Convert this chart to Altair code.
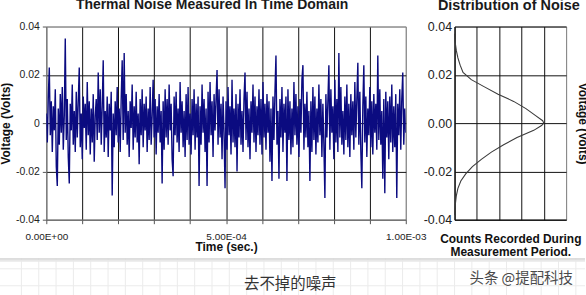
import altair as alt
import pandas as pd

# ---------------- data ----------------
# noise samples in millivolts, read left to right across the time window
noise_mv = [
    4, -8, 11, 23, -5, 9, -12, 7, -3, 14,
    -18, -26, 6, -9, 12, -4, 15, -11, 3, 35,
    -7, 10, -14, -25, 8, -3, 16, -9, 5, -12,
    13, -6, 9, 23, -10, 4, -15, 11, -2, 8,
    -11, 17, -5, 9, -13, 6, -8, 12, -16, 3,
    10, -7, 21, -4, 14, -9, 7, 26, -12, 5,
    -6, 11, -14, 8, -3, 13, -30, 4, -10, 9,
    -5, 15, -8, 6, -12, 10, 26, -7, 29, -4,
    12, -9, 5, -14, 9, -2, 16, -11, 7, -6,
    13, -8, 4, -17, 10, -5, 14, -10, 8, -3,
    11, -12, 6, -7, 15, -9, 3, 18, -6, 10,
    -13, 7, -4, 12, -8, 5, -25, 9, -11, 14,
    -6, 10, -9, 16, -3, 8, -15, -22, 11, -5,
    13, -8, 6, -12, 17, -4, 9, -10, 5, -14,
    12, -7, 15, -9, 4, -13, 10, -5, 14, -11,
    8, -6, 11, -26, 7, -9, 16, -4, 10, -12,
    6, -26, 13, -8, 17, -5, 9, -14, 12, -3,
    10, 22, -9, 14, -6, 8, -15, 11, -4, -27,
    9, -11, 15, -5, 7, -13, 18, -8, 6, -10,
    12, -20, 8, -6, 14, -9, 5, -12, 10, 21,
    -7, 13, -10, 6, -15, 9, -4, 16, -8, 11,
    -12, 7, -5, 14, -9, 10, -13, 17, -6, 8,
    -11, 12, -4, 9, -16, 6, -24, 11, -7, 13,
    28, -9, 5, -23, 10, -6, 15, -12, 8, -4,
    11, -24, 14, -7, 9, -13, 6, -10, 17, -5,
    12, -9, 7, -14, 10, -4, 18, 24, -11, 8,
    -6, 13, -10, 5, -24, 9, -12, 15, -7, 11,
    -13, 6, -8, 16, -5, 10, -14, 8, -9, -31,
    12, -6, 9, 24, -11, 14, -4, 7, -15, 18,
    -8, 10, -12, 29, -6, 15, -9, 5, -13, 11,
    -7, 16, -10, 8, -14, 12, -5, 9, -11, 17,
    -6, 10, 25, -9, 13, -12, -27, 7, 24, -8,
    11, -14, 6, -5, 15, -10, 9, -13, 12, -4,
    8, -11, 28, -7, 14, -9, 5, -23, 10, -29,
    13, -6, 9, -15, 11, -8, 16, -12, 7, -10,
    12, -31, 8, -5, 14, -11, 10, 21, -9, 6,
    -4,
]
t_end = 1.0e-3

# distribution curve (voltage vs counts)
dist_volts = [0.037, 0.034, 0.030, 0.027, 0.024, 0.021, 0.018, 0.015, 0.012,
              0.009, 0.006, 0.003, 0.001, 0.0, -0.001, -0.003, -0.006, -0.009,
              -0.012, -0.015, -0.018, -0.021, -0.024, -0.027, -0.030, -0.034, -0.038]
dist_counts = [0.0, 0.02, 0.08, 0.15, 0.25, 0.38, 0.75, 1.34, 1.95,
               2.65, 3.2, 3.65, 3.95, 4.0, 3.9, 3.55, 2.8, 2.2,
               1.65, 1.2, 0.8, 0.5, 0.28, 0.15, 0.08, 0.03, 0.0]

x_grid_values = [0.0, 0.0001, 0.0002, 0.0003, 0.0004, 0.0005,
                 0.0006, 0.0007, 0.0008, 0.0009, 0.001]
x_label_values = [0.0, 0.0005, 0.001]
x_tick_labels = ["0.00E+00", "5.00E-04", "1.00E-03"]
y_tick_values = [-0.04, -0.02, 0.0, 0.02, 0.04]
y_left_labels = ["-0.04", "-0.02", "0", "0.02", "0.04"]
y_right_labels = ["-0.04", "-0.02", "0.00", "0.02", "0.04"]
count_grid_values = [0, 1, 2, 3, 4, 5]

title_left = "Thermal Noise Measured In Time Domain"
title_right = "Distribution of Noise"
x_title_left = "Time (sec.)"
x_title_right = ["Counts Recorded During", "Measurement Period."]
y_title = "Voltage (Volts)"
caption = "去不掉的噪声"
watermark = "头条 @提配科技"

# ---------------- helpers ----------------
FONT = "Liberation Sans"
CJK = "Noto Sans CJK SC"
W_L, W_R, H = 361, 112, 194
STRIP_TOP = 233          # page strip below the chart card (relative to left plot top)
STRIP_BOTTOM = 272
STRIP_LEFT, STRIP_RIGHT = -46.5, 541


def label_expr(values, labels):
    expr = "''"
    for v, lab in reversed(list(zip(values, labels))):
        expr = f"abs(datum.value - ({v!r})) < 1e-9 ? '{lab}' : {expr}"
    return expr


n = len(noise_mv)
noise_df = pd.DataFrame({
    "t": [i * t_end / (n - 1) for i in range(n)],
    "v": [m / 1000.0 for m in noise_mv],
})
dist_df = pd.DataFrame({"k": list(range(len(dist_volts))),
                        "c": dist_counts, "v": dist_volts})
one = pd.DataFrame({"a": [0]})

# ---------------- left panel ----------------
left_x_axis = alt.Axis(
    values=x_grid_values,
    labelExpr=label_expr(x_label_values, x_tick_labels),
    grid=True,
    gridColor={"condition": {"test": "datum.value < 0.00001 || datum.value > 0.00099",
                             "value": "#8a8a8a"}, "value": "#111111"},
    gridWidth=1,
    ticks=True, tickSize=4, tickColor="#555555",
    domainColor="#666666",
    labelFont=FONT, labelFontSize=10, labelColor="#222222",
    labelPadding=7.5, labelFlush=False, labelOverlap=False,
    title=x_title_left, titleFont=FONT, titleFontSize=12, titleFontWeight="bold",
    titleColor="#111111", titleBaseline="alphabetic", titleY=31,
)
left_y_axis = alt.Axis(
    values=y_tick_values,
    labelExpr=label_expr(y_tick_values, y_left_labels),
    grid=True,
    gridColor={"condition": {"test": "abs(datum.value) > 0.039", "value": "#8a8a8a"},
               "value": "#111111"},
    gridWidth=1,
    ticks=True, tickSize=4, tickColor="#555555",
    domainColor="#777777",
    labelFont=FONT, labelFontSize=10.5, labelColor="#222222", labelPadding=3,
    labelFlush=False, labelOverlap=False,
    title=y_title, titleFont=FONT, titleFontSize=12, titleFontWeight="bold",
    titleColor="#111111", titleAngle=270, titleBaseline="middle", titleAlign="center",
    titleX=-40.5, titleY=97,
)

noise = alt.Chart(noise_df).mark_line(color="#0b0b80", strokeWidth=1.4, clip=True).encode(
    x=alt.X("t:Q", scale=alt.Scale(domain=[0, t_end], nice=False, zero=False), axis=left_x_axis),
    y=alt.Y("v:Q", scale=alt.Scale(domain=[-0.04, 0.04], nice=False), axis=left_y_axis),
)

# page strip below the card: faint background grid, card shadow, captions
strip_layers = []
for k in range(0, 34):
    xv = -25 + 17.4 * k
    if xv <= STRIP_RIGHT:
        strip_layers.append(alt.Chart(one).mark_rule(color="#ebebeb", strokeWidth=1).encode(
            x=alt.value(xv), y=alt.value(STRIP_TOP), y2=alt.value(STRIP_BOTTOM)))
for yv in (STRIP_TOP + 10.3, STRIP_TOP + 27.3):
    strip_layers.append(alt.Chart(one).mark_rule(color="#ebebeb", strokeWidth=1).encode(
        x=alt.value(STRIP_LEFT), x2=alt.value(STRIP_RIGHT), y=alt.value(yv)))
strip_layers.append(alt.Chart(one).mark_rule(color="#d2d2d2", strokeWidth=1.5).encode(
    x=alt.value(STRIP_LEFT), x2=alt.value(STRIP_RIGHT), y=alt.value(STRIP_TOP + 0.5)))
strip_layers.append(alt.Chart(one).mark_rule(color="#e8e8e8", strokeWidth=2).encode(
    x=alt.value(STRIP_LEFT), x2=alt.value(STRIP_RIGHT), y=alt.value(STRIP_TOP + 2.2)))
strip_layers.append(alt.Chart(one).mark_text(
    font=CJK, fontSize=15.5, color="#333333", align="center", baseline="middle",
    text=caption).encode(x=alt.value(245), y=alt.value(STRIP_TOP + 25.5)))
strip_layers.append(alt.Chart(one).mark_text(
    font=CJK, fontSize=14.5, color="#4a4a4a", align="left", baseline="middle",
    text=watermark).encode(x=alt.value(425), y=alt.value(STRIP_TOP + 20.5)))

left = alt.layer(
    *strip_layers, noise,
    title=alt.TitleParams(title_left, font=FONT, fontSize=14, fontWeight="bold",
                          color="#1a1a1a", anchor="middle", baseline="alphabetic",
                          offset=-1, dx=-14, frame="group"),
).properties(width=W_L, height=H, view=alt.ViewBackground(stroke="#8a8a8a"))

# ---------------- right panel ----------------
right_x_axis = alt.Axis(
    values=count_grid_values, grid=True,
    gridColor={"condition": {"test": "datum.value > 4.99", "value": "#8a8a8a"},
               "value": "#111111"},
    gridWidth=1, labels=False, ticks=False, domainColor="#111111",
    title=x_title_right, titleFont=FONT, titleFontSize=12, titleFontWeight="bold",
    titleColor="#111111", titleBaseline="alphabetic", titleY=22.5, titleLineHeight=13.5,
)
right_y_axis = alt.Axis(
    values=y_tick_values,
    labelExpr=label_expr(y_tick_values, y_right_labels),
    grid=True, gridColor="#111111", gridWidth=1,
    ticks=False, domainColor="#111111",
    labelFont=FONT, labelFontSize=12.5, labelColor="#222222", labelPadding=3,
    labelFlush=False, labelOverlap=False,
    title=y_title, titleFont=FONT, titleFontSize=12, titleFontWeight="bold",
    titleColor="#111111", titleAngle=90, titleBaseline="middle", titleAlign="center",
    titleX=128, titleY=97,
)
dist = alt.Chart(dist_df).mark_line(color="#3a3a3a", strokeWidth=1.1).encode(
    x=alt.X("c:Q", scale=alt.Scale(domain=[0, 5], nice=False), axis=right_x_axis),
    y=alt.Y("v:Q", scale=alt.Scale(domain=[-0.04, 0.04], nice=False), axis=right_y_axis),
    order="k:Q",
)
right = alt.layer(
    dist,
    title=alt.TitleParams(title_right, font=FONT, fontSize=14.5, fontWeight="bold",
                          color="#1a1a1a", anchor="middle", baseline="alphabetic",
                          offset=-4, dx=-1.5, frame="group"),
).properties(width=W_R, height=H, view=alt.ViewBackground(stroke="#8a8a8a"))

chart = alt.hconcat(left, right, spacing=49, bounds="flush").properties(
    padding={"left": -1.5, "top": -4, "right": -3, "bottom": 0},
    background="white",
)

chart.save("out.html", embed_options={"renderer": "svg", "actions": False})
